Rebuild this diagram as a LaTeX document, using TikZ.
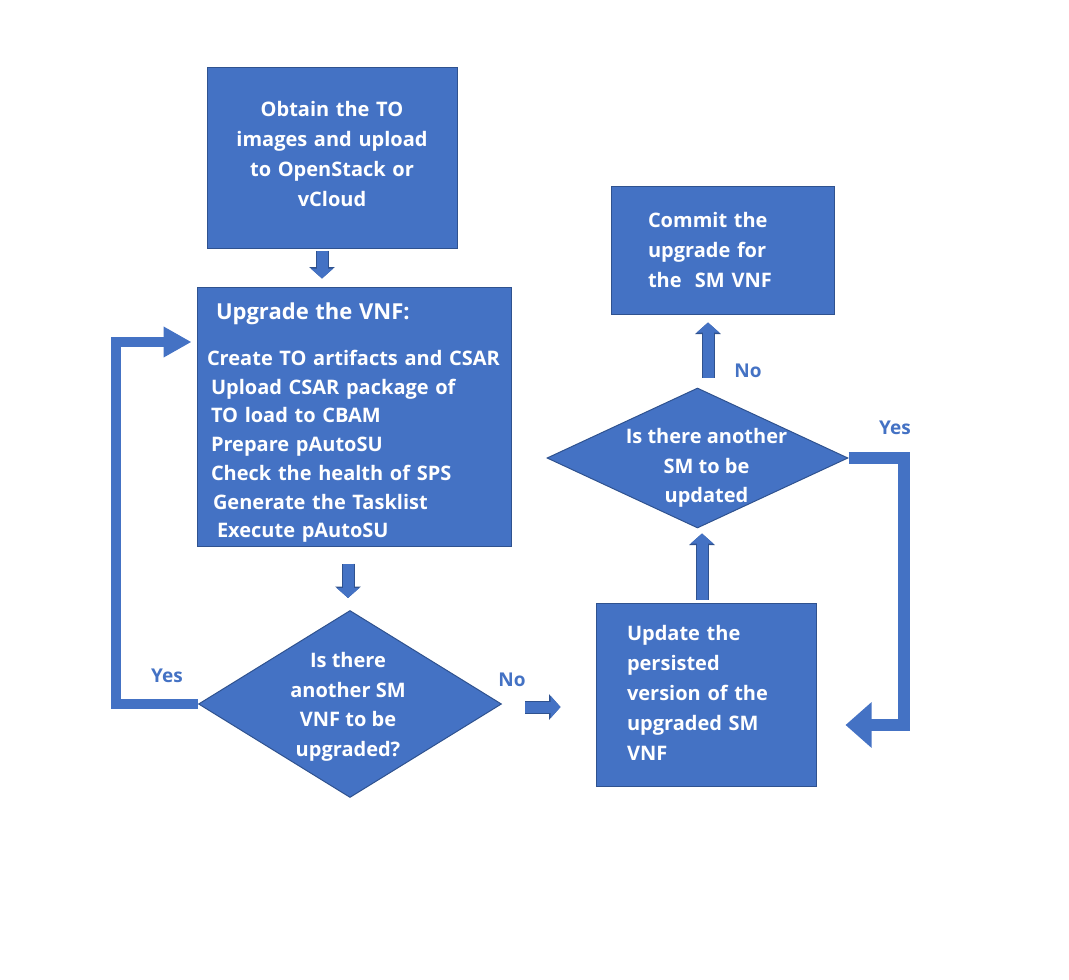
\documentclass[tikz,border=0pt]{standalone}
\usepackage{fontspec}
\setmainfont{Open Sans}
\usepackage{tikz}
\usetikzlibrary{arrows.meta,shapes.geometric}

\definecolor{boxblue}{HTML}{4472C4}
\definecolor{boxedge}{HTML}{2F528F}

\tikzset{
  stepbox/.style={draw=boxedge,line width=1pt,fill=boxblue,text=white,
    font=\bfseries\fontsize{20}{30}\selectfont,inner sep=0pt},
  decision/.style={diamond,draw=boxedge,line width=1pt,fill=boxblue,inner sep=0pt},
  dtext/.style={text=white,align=center,inner sep=0pt,
    font=\bfseries\fontsize{20}{29.5}\selectfont},
  yesno/.style={text=boxblue,font=\bfseries\fontsize{19}{20}\selectfont,inner sep=0pt},
  blkarrow/.style={draw=boxblue,line width=11pt,-{Triangle[width=22pt,length=10pt]},
    preaction={draw=boxedge,line width=13pt,-{Triangle[width=25pt,length=11.5pt]}}},
  fatleft/.style={draw=boxblue,line width=10pt,-{Triangle[width=29pt,length=28pt]}},
  fatright/.style={draw=boxblue,line width=12pt,-{Triangle[width=44pt,length=26pt]}}
}

\begin{document}
\begin{tikzpicture}[x=1pt,y=-1pt]
        \useasboundingbox (0,0) rectangle (1069,980);
        % boxes
        \node[stepbox,minimum width=250,minimum height=181,text width=240,align=center] (obtain) at (332,157.5)
          {Obtain the TO\\images and upload\\to OpenStack or\\vCloud\par\vspace*{8pt}};
        \node[stepbox,minimum width=314,minimum height=259,text width=304,align=left,
          font=\bfseries\fontsize{20}{28.7}\selectfont] (upgrade) at (354,416.5)
          {{\fontsize{22}{22}\selectfont\rule{0pt}{29pt}\hspace*{14pt}Upgrade the VNF:}\\[17.3pt]
           \hspace*{5pt}Create TO artifacts and CSAR\\
           \hspace*{9pt}Upload CSAR package of\\
           \hspace*{9pt}TO load to CBAM\\
           \hspace*{9pt}Prepare pAutoSU\\
           \hspace*{9pt}Check the health of SPS\\
           \hspace*{11pt}Generate the Tasklist\\
           \hspace*{15pt}Execute pAutoSU};
        \node[decision,minimum width=303,minimum height=187,
          label={[dtext,xshift=-2pt,yshift=-3pt]center:{Is there\\another SM\\VNF to be\\upgraded?}}] (anotherVnf) at (350,704) {};
        \node[stepbox,minimum width=220,minimum height=183,text width=158,align=left] (persist) at (706,694.5)
          {Update the\\persisted\\version of the\\upgraded SM\\VNF\par\vspace*{4pt}};
        \node[decision,minimum width=301,minimum height=140,
          label={[dtext,xshift=9pt,yshift=-10pt]center:{Is there another\\SM to be\\updated}}] (anotherSm) at (697.5,458) {};
        \node[stepbox,minimum width=223,minimum height=128,text width=149,align=left] (commit) at (722.5,250)
          {Commit the\\upgrade for\\the\ \ SM VNF};
        % labels
        \node[yesno] (yesLeft) at (167,676) {Yes};
        \node[yesno] (noLeft) at (512,680) {No};
        \node[yesno] (noUp) at (748,371) {No};
        \node[yesno] (yesRight) at (895,428) {Yes};
        % small arrows
        \draw[blkarrow,shorten <=2pt,shorten >=8pt] ([xshift=-10pt]obtain.south) -- ([xshift=-10pt]obtain.south |- upgrade.north);
        \draw[blkarrow,shorten <=17pt,shorten >=12pt] ([xshift=-6pt]upgrade.south) -- ([xshift=-6pt]upgrade.south |- anotherVnf.north);
        \draw[blkarrow,shorten <=23pt,shorten >=35pt] ([yshift=-3pt]anotherVnf.east) -- ([yshift=-3pt]anotherVnf.east -| persist.west);
        \draw[blkarrow,shorten <=3pt,shorten >=5pt] ([xshift=-4pt]persist.north) -- ([xshift=-4pt]persist.north |- anotherSm.south);
        \draw[blkarrow,shorten <=10pt,shorten >=8pt] ([xshift=10.5pt]anotherSm.north) -- ([xshift=10.5pt]anotherSm.north |- commit.south);
        % loops
        \draw[fatleft,shorten >=5pt] (anotherVnf.west) -- ++(-82,0) |- ([yshift=74.5pt]upgrade.west);
        \draw[fatright,shorten >=29pt] (anotherSm.east) -- ++(55,0) |- ([yshift=-30.5pt]persist.east);
\end{tikzpicture}
\end{document}
